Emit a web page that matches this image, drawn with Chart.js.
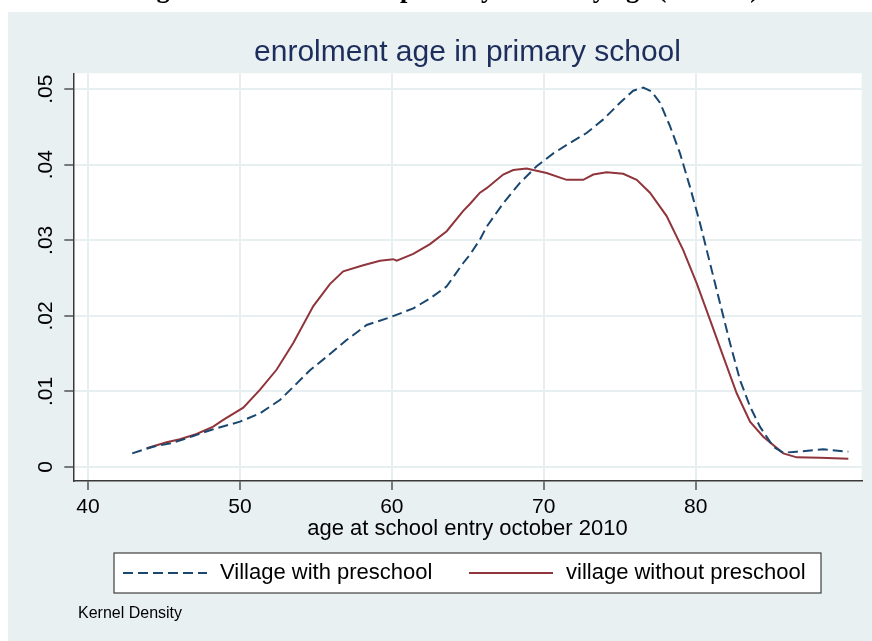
<!DOCTYPE html>
<html><head><meta charset="utf-8">
<script src="https://cdn.jsdelivr.net/npm/chart.js@4.4.1/dist/chart.umd.min.js"></script>
<style>
html,body{margin:0;padding:0;background:#fff;overflow:hidden;}
#wrap{position:relative;width:872px;height:641px;overflow:hidden;}
#cap{position:absolute;left:133px;top:-25px;font:bold 26.5px/1 "Liberation Serif",serif;white-space:nowrap;color:#000;}
canvas{position:absolute;left:0;top:0;}
</style></head><body>
<div id="wrap"><canvas id="c" width="872" height="641"></canvas><div id="cap">Figure 2: Enrolment in primary school by age (months)</div></div>
<script>
// ---- data ----
const seriesLabels = ["Village with preschool", "village without preschool"];
const chartTitle = "enrolment age in primary school";
const xTitle = "age at school entry october 2010";
const noteText = "Kernel Density";
const xTicks = [40, 50, 60, 70, 80];
const yTicks = [0, 0.01, 0.02, 0.03, 0.04, 0.05];

const ageWith = [42.91, 44.29, 45.61, 46.93, 48.24, 50.0, 51.32, 52.63, 53.51, 54.61, 55.71, 57.02, 58.34, 59.87, 61.41, 62.51, 63.61, 64.70, 65.14, 65.80, 66.24, 67.33, 68.43, 69.53, 70.63, 71.73, 72.82, 73.92, 75.02, 75.89, 76.55, 77.10, 77.65, 78.31, 78.97, 79.62, 80.28, 80.94, 81.60, 82.26, 82.92, 83.58, 84.23, 85.11, 85.77, 86.65, 88.40, 90.05];
const densWith = [.00181, .00269, .00322, .00411, .0050, .0060, .00711, .00887, .0106, .0128, .0146, .0168, .0188, .0198, .0210, .0223, .0239, .0270, .0281, .0301, .0318, .0349, .0376, .0398, .0415, .0429, .0442, .0460, .0482, .0498, .0502, .0497, .0482, .0451, .0415, .0371, .0323, .0270, .0217, .0164, .0115, .0080, .00534, .00269, .00189, .00203, .00234, .00203];

const ageWithout = [43.86, 45.17, 46.05, 47.15, 48.24, 48.90, 50.22, 51.31, 52.42, 53.51, 54.83, 55.92, 56.80, 58.12, 59.22, 60.09, 60.32, 61.41, 62.51, 63.61, 64.70, 65.14, 65.80, 66.24, 67.33, 67.99, 68.87, 70.19, 71.51, 72.60, 73.26, 74.14, 75.23, 76.12, 76.99, 78.09, 79.18, 80.07, 80.94, 81.82, 82.70, 83.58, 84.45, 85.77, 86.65, 88.18, 90.05];
const densWithout = [.00248, .00327, .00367, .00437, .00534, .00623, .00785, .0102, .0129, .0164, .0213, .0242, .0259, .0267, .0273, .0275, .0273, .0282, .0295, .0312, .0339, .0348, .0363, .0369, .0387, .0393, .0395, .0389, .0380, .0380, .0387, .0390, .0388, .0380, .0363, .0332, .0287, .0243, .0195, .0146, .00976, .0060, .00401, .00181, .00128, .00123, .0011];

// ---- styling ----
const BLUE = '#1a476f', RED = '#90353b';
const BG = '#e9f0f2', GRID = '#e8eff1', AXIS = '#3a3a3a';
const FONT = "'Liberation Sans', Arial, sans-serif";

const decor = {
  id: 'decor',
  beforeDraw(chart) {
    const ctx = chart.ctx, a = chart.chartArea;
    ctx.save();
    ctx.fillStyle = BG;
    ctx.fillRect(8, 12, 864, 629);
    ctx.fillStyle = '#ffffff';
    ctx.fillRect(a.left, a.top, a.right - a.left, a.bottom - a.top);
    ctx.restore();
  },
  afterDraw(chart) {
    const ctx = chart.ctx, ys = chart.scales.y;
    ctx.save();
    // rotated y tick labels
    ctx.fillStyle = '#000';
    ctx.font = '21px ' + FONT;
    ctx.textAlign = 'center';
    ctx.textBaseline = 'middle';
    yTicks.forEach(v => {
      const py = ys.getPixelForValue(v);
      const lab = v === 0 ? '0' : '.' + String(Math.round(v * 100)).padStart(2, '0');
      ctx.save();
      ctx.translate(46, py);
      ctx.rotate(-Math.PI / 2);
      ctx.fillText(lab, 0, 0);
      ctx.restore();
    });
    // legend box
    const bx = 114, by = 553, bw = 707, bh = 40, cy = by + bh / 2;
    ctx.fillStyle = '#fff';
    ctx.fillRect(bx, by, bw, bh);
    ctx.strokeStyle = '#404040';
    ctx.lineWidth = 1.2;
    ctx.strokeRect(bx, by, bw, bh);
    const ds = chart.data.datasets;
    const items = [{x0: 123, x1: 207, tx: 220}, {x0: 469, x1: 553, tx: 566}];
    items.forEach((it, i) => {
      ctx.strokeStyle = ds[i].borderColor;
      ctx.lineWidth = 2;
      ctx.setLineDash(ds[i].borderDash || []);
      ctx.beginPath();
      ctx.moveTo(it.x0, cy);
      ctx.lineTo(it.x1, cy);
      ctx.stroke();
      ctx.setLineDash([]);
      ctx.fillStyle = '#000';
      ctx.font = '22px ' + FONT;
      ctx.textAlign = 'left';
      ctx.textBaseline = 'middle';
      ctx.fillText(ds[i].label, it.tx, cy);
    });
    // note
    ctx.font = '16px ' + FONT;
    ctx.fillStyle = '#000';
    ctx.textAlign = 'left';
    ctx.textBaseline = 'middle';
    ctx.fillText(noteText, 78, 614);
    ctx.restore();
  }
};

const toPts = (xs, ys) => xs.map((x, i) => ({x: x, y: ys[i]}));

new Chart(document.getElementById('c'), {
  type: 'scatter',
  data: {
    datasets: [
      {label: seriesLabels[0], data: toPts(ageWith, densWith), showLine: true, borderColor: BLUE, borderWidth: 2, borderDash: [10, 5], pointRadius: 0, tension: 0, fill: false},
      {label: seriesLabels[1], data: toPts(ageWithout, densWithout), showLine: true, borderColor: RED, borderWidth: 2, pointRadius: 0, tension: 0, fill: false}
    ]
  },
  options: {
    responsive: false,
    animation: false,
    events: [],
    layout: {padding: {left: 0, right: 10.3, top: 0, bottom: 96}},
    plugins: {
      legend: {display: false},
      tooltip: {enabled: false},
      title: {
        display: true, text: chartTitle, fullSize: false, color: '#1e2e5c',
        font: {family: FONT, size: 30, weight: 'normal', lineHeight: 1.2},
        padding: {top: 34.3, bottom: 3}
      }
    },
    scales: {
      x: {
        type: 'linear', min: 39.03, max: 90.93,
        afterBuildTicks: s => { s.ticks = xTicks.map(v => ({value: v})); },
        afterFit: s => { s.height = 64; },
        grid: {color: GRID, lineWidth: 2, tickColor: AXIS, tickWidth: 1.3, tickLength: 9},
        border: {color: AXIS, width: 1.5},
        ticks: {color: '#000', font: {family: FONT, size: 21}, padding: 5, maxRotation: 0, autoSkip: false,
                callback: v => String(v)},
        title: {display: true, text: xTitle, color: '#000', font: {family: FONT, size: 22, lineHeight: 1.2}, padding: {top: 0, bottom: 3}}
      },
      y: {
        type: 'linear', min: -0.00185, max: 0.0521,
        afterBuildTicks: s => { s.ticks = yTicks.map(v => ({value: v})); },
        afterFit: s => { s.width = 73.3; },
        grid: {color: GRID, lineWidth: 2, tickColor: AXIS, tickWidth: 1.3, tickLength: 9},
        border: {color: AXIS, width: 1.5},
        ticks: {display: false}
      }
    }
  },
  plugins: [decor]
});
</script>
</body></html>
